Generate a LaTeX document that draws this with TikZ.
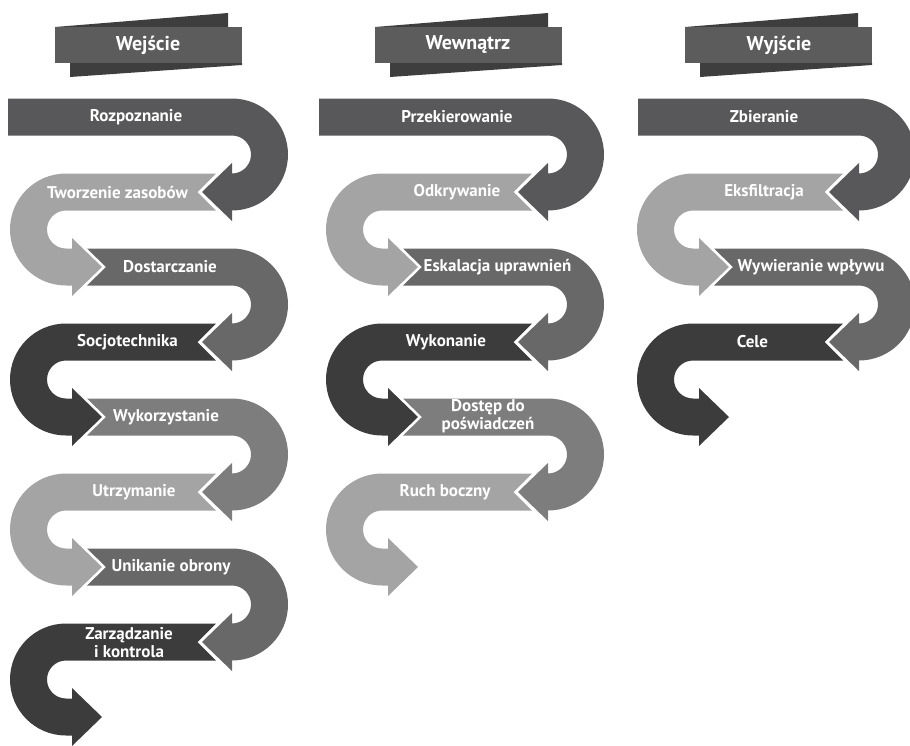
\documentclass[tikz,border=0pt]{standalone}
\usepackage{fontspec}
\setmainfont{PT Sans}
\definecolor{cA}{HTML}{58585A}
\definecolor{cB}{HTML}{A4A4A4}
\definecolor{cC}{HTML}{686868}
\definecolor{cD}{HTML}{3C3C3C}
\definecolor{cE}{HTML}{7D7D7D}
\definecolor{hdrF}{HTML}{5C5C5C}
\definecolor{hdrB}{HTML}{3E3E3E}
\tikzset{
  lbl/.style={text=white, font=\bfseries\fontsize{17}{18}\selectfont, align=center, inner sep=0pt},
  hlbl/.style={text=white, font=\bfseries\fontsize{20}{22}\selectfont, inner sep=0pt}
}
% right-going band: offset, row, colour, start x, notch depth
\newcommand{\RSeg}[5]{%
\begin{scope}[xshift=#1]
\pgfmathsetmacro{\Ya}{-117-75*(#2-1)}
\pgfmathsetmacro{\Yb}{\Ya-75}
\fill[#3] (#4,\Ya+18.5) -- (232,\Ya+18.5) arc[start angle=90, end angle=-90, radius=56]
  -- (232,\Yb-29) -- (202,\Yb) -- (232,\Yb+29) -- (232,\Yb+18.5)
  arc[start angle=-90, end angle=90, radius=19]
  -- (#4,\Ya-18.5) -- (#4+#5,\Ya) -- cycle;
\end{scope}}
% left-going band: offset, row, colour
\newcommand{\LSeg}[3]{%
\begin{scope}[xshift=#1]
\pgfmathsetmacro{\Ya}{-117-75*(#2-1)}
\pgfmathsetmacro{\Yb}{\Ya-75}
\fill[#3] (216,\Ya+18.5) -- (66,\Ya+18.5) arc[start angle=90, end angle=270, radius=56]
  -- (72,\Yb-18.5) -- (72,\Yb-29) -- (102,\Yb) -- (72,\Yb+29) -- (72,\Yb+18.5)
  -- (66,\Yb+18.5) arc[start angle=270, end angle=90, radius=19]
  -- (216,\Ya-18.5) -- (197.5,\Ya) -- cycle;
\end{scope}}
% header banner: offset
\newcommand{\Banner}[1]{%
\begin{scope}[xshift=#1]
\fill[hdrB] (55,-27) -- (228,-13) -- (228,-27) -- cycle;
\fill[hdrB] (70,-63) -- (242,-63) -- (242,-65) -- (70,-77) -- cycle;
\fill[hdrF] (55,-27) rectangle (242,-63);
\end{scope}}
\begin{document}
\begin{tikzpicture}[x=1pt,y=1pt]
\useasboundingbox (0,-745) rectangle (910,0);
% headers
\Banner{0}
\Banner{320}
\Banner{630}
\node[hlbl] (h1) at (148,-45) {Wejście};
\node[hlbl] (h2) at (468,-45) {Wewnątrz};
\node[hlbl] (h3) at (779,-45) {Wyjście};
% column 1
\RSeg{0}{1}{cA}{8}{0}
\LSeg{0}{2}{cB}
\RSeg{0}{3}{cC}{87}{19}
\LSeg{0}{4}{cD}
\RSeg{0}{5}{cE}{87}{19}
\LSeg{0}{6}{cB}
\RSeg{0}{7}{cC}{87}{19}
\LSeg{0}{8}{cD}
% column 2
\RSeg{316}{1}{cA}{3}{0}
\LSeg{316}{2}{cB}
\RSeg{316}{3}{cC}{87}{19}
\LSeg{316}{4}{cD}
\RSeg{316}{5}{cE}{87}{19}
\LSeg{316}{6}{cB}
% column 3
\RSeg{627}{1}{cA}{11}{0}
\LSeg{627}{2}{cB}
\RSeg{627}{3}{cC}{87}{19}
\LSeg{627}{4}{cD}
% labels column 1
\node[lbl] (a1) at (136,-117) {Rozpoznanie};
\node[lbl] (a2) at (117.5,-192) {Tworzenie zasobów};
\node[lbl] (a3) at (170,-267) {Dostarczanie};
\node[lbl] (a4) at (127.5,-342) {Socjotechnika};
\node[lbl] (a5) at (166,-417) {Wykorzystanie};
\node[lbl] (a6) at (134,-492) {Utrzymanie};
\node[lbl] (a7) at (171,-567) {Unikanie obrony};
\node[lbl] (a8) at (129,-643) {Zarządzanie\\i kontrola};
% labels column 2
\node[lbl] (b1) at (457,-117) {Przekierowanie};
\node[lbl] (b2) at (457,-192) {Odkrywanie};
\node[lbl] (b3) at (497.5,-267) {Eskalacja uprawnień};
\node[lbl] (b4) at (446,-342) {Wykonanie};
\node[lbl] (b5) at (488,-416) {Dostęp do\\poświadczeń};
\node[lbl] (b6) at (445,-492) {Ruch boczny};
% labels column 3
\node[lbl] (c1) at (764,-117) {Zbieranie};
\node[lbl] (c2) at (764,-192) {Eksfiltracja};
\node[lbl] (c3) at (811,-267) {Wywieranie wpływu};
\node[lbl] (c4) at (752.5,-342) {Cele};
\end{tikzpicture}
\end{document}
